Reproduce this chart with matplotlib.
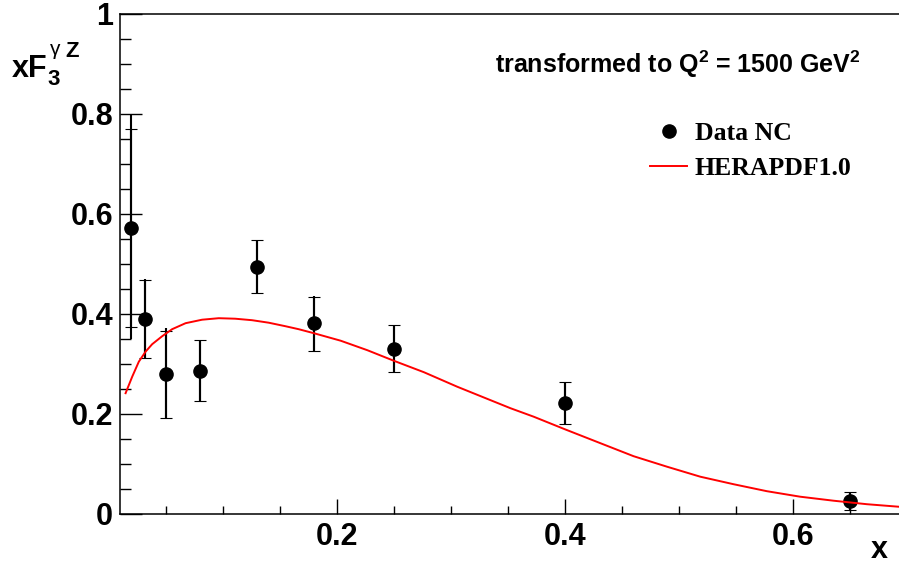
import matplotlib
matplotlib.use('Agg')
import matplotlib.pyplot as plt
from matplotlib.font_manager import FontProperties

# data points (Data NC), xF3 gamma-Z at Q2 = 1500 GeV2
data_x = [0.020, 0.032, 0.050, 0.080, 0.130, 0.180, 0.250, 0.400, 0.650]
data_y = [0.571, 0.389, 0.279, 0.286, 0.494, 0.381, 0.329, 0.222, 0.026]
# statistical errors (capped)
stat_lo = [0.197, 0.078, 0.087, 0.061, 0.053, 0.055, 0.046, 0.043, 0.019]
stat_hi = [0.198, 0.078, 0.086, 0.061, 0.053, 0.053, 0.048, 0.041, 0.018]
# total errors
tot_lo = [0.222, 0.080, 0.090, 0.062, 0.054, 0.056, 0.047, 0.044, 0.019]
tot_hi = [0.226, 0.080, 0.092, 0.062, 0.054, 0.054, 0.048, 0.042, 0.018]

# HERAPDF1.0 prediction
curve_x = [0.0149, 0.0207, 0.0265, 0.0324, 0.0382, 0.047, 0.0557, 0.0675, 0.082,
           0.0966, 0.111, 0.1258, 0.1404, 0.155, 0.1667, 0.180, 0.2035, 0.2269,
           0.250, 0.2765, 0.3057, 0.335, 0.3524, 0.3728, 0.400, 0.4313, 0.4604,
           0.4897, 0.5189, 0.548, 0.5773, 0.6065, 0.6357, 0.6649, 0.6926, 0.700]
curve_y = [0.241, 0.274, 0.304, 0.324, 0.339, 0.355, 0.369, 0.381, 0.388,
           0.391, 0.390, 0.387, 0.382, 0.375, 0.369, 0.361, 0.346, 0.327,
           0.306, 0.283, 0.254, 0.227, 0.211, 0.194, 0.169, 0.141, 0.115,
           0.094, 0.074, 0.059, 0.045, 0.034, 0.026, 0.019, 0.014, 0.013]

y_ticks = [0, 0.2, 0.4, 0.6, 0.8, 1.0]
y_ticklabels = ['0', '0.2', '0.4', '0.6', '0.8', '1']
x_ticks = [0.2, 0.4, 0.6]
x_ticklabels = ['0.2', '0.4', '0.6']

W, H = 899, 565
fig = plt.figure(figsize=(W / 100, H / 100), dpi=100)


def px(x, y):
    return x / W, 1 - y / H


ax = fig.add_axes([120 / W, (H - 513.7) / H, (906.8 - 120) / W, 500 / H])
ax.set_xlim(0.01, 0.7)
ax.set_ylim(0, 1)

# total error (no caps) then stat error with caps
ax.errorbar(data_x, data_y, yerr=[tot_lo, tot_hi], fmt='none', ecolor='black',
            elinewidth=1.5, capsize=0, zorder=3)
eb = ax.errorbar(data_x, data_y, yerr=[stat_lo, stat_hi], fmt='o', color='black',
                 markersize=9.5, elinewidth=1.5, capsize=4.3, capthick=0.8, zorder=4)
curve, = ax.plot(curve_x, curve_y, color='#ff0000', lw=1.4, zorder=5)

ax.set_yticks(y_ticks)
ax.set_yticklabels(y_ticklabels)
ax.set_xticks(x_ticks)
ax.set_xticklabels(x_ticklabels)
ax.set_yticks([v / 20 for v in range(21)], minor=True)
ax.set_xticks([0.05, 0.1, 0.15, 0.25, 0.3, 0.35, 0.45, 0.5, 0.55, 0.65], minor=True)

tick_font = FontProperties(family='Liberation Sans', weight='bold', size=22)
for lab in ax.get_xticklabels() + ax.get_yticklabels():
    lab.set_fontproperties(tick_font)

ax.tick_params(axis='y', which='major', direction='in', length=16, width=1, pad=5)
ax.tick_params(axis='y', which='minor', direction='in', length=8, width=1)
ax.tick_params(axis='x', which='major', direction='in', length=11, width=1, pad=6)
ax.tick_params(axis='x', which='minor', direction='in', length=5.5, width=1)
for s in ax.spines.values():
    s.set_linewidth(1.1)

# axis titles
sans_b = dict(family='Liberation Sans', weight='bold')
fig.text(*px(12, 77), 'xF', fontsize=22, ha='left', va='baseline', **sans_b)
fig.text(*px(47, 85), '3', fontsize=16, ha='left', va='baseline', **sans_b)
fig.text(*px(50, 55), '\u03b3', fontsize=15, ha='left', va='baseline', family='Liberation Sans')
fig.text(*px(65, 57), 'Z', fontsize=16, ha='left', va='baseline', **sans_b)
fig.text(*px(871, 558), 'x', fontsize=22, ha='left', va='baseline', **sans_b)

plt.rcParams['mathtext.fontset'] = 'custom'
plt.rcParams['mathtext.bf'] = 'Liberation Sans:bold'
plt.rcParams['mathtext.rm'] = 'Liberation Sans:bold'
fig.text(*px(495, 73), r'transformed to Q$^{\mathbf{2}}$ = 1500 GeV$^{\mathbf{2}}$',
         fontsize=18, ha='left', va='baseline', **sans_b)

leg = ax.legend([eb[0], curve], ['Data NC', 'HERAPDF1.0'], loc='upper left',
                bbox_to_anchor=px(650, 122), bbox_transform=fig.transFigure,
                frameon=False, borderpad=0, borderaxespad=0, handlelength=1.44,
                handletextpad=0.3, labelspacing=0.45,
                prop=FontProperties(family='Liberation Serif', weight='bold', size=18.5))

fig.savefig('out.png', dpi=100)
